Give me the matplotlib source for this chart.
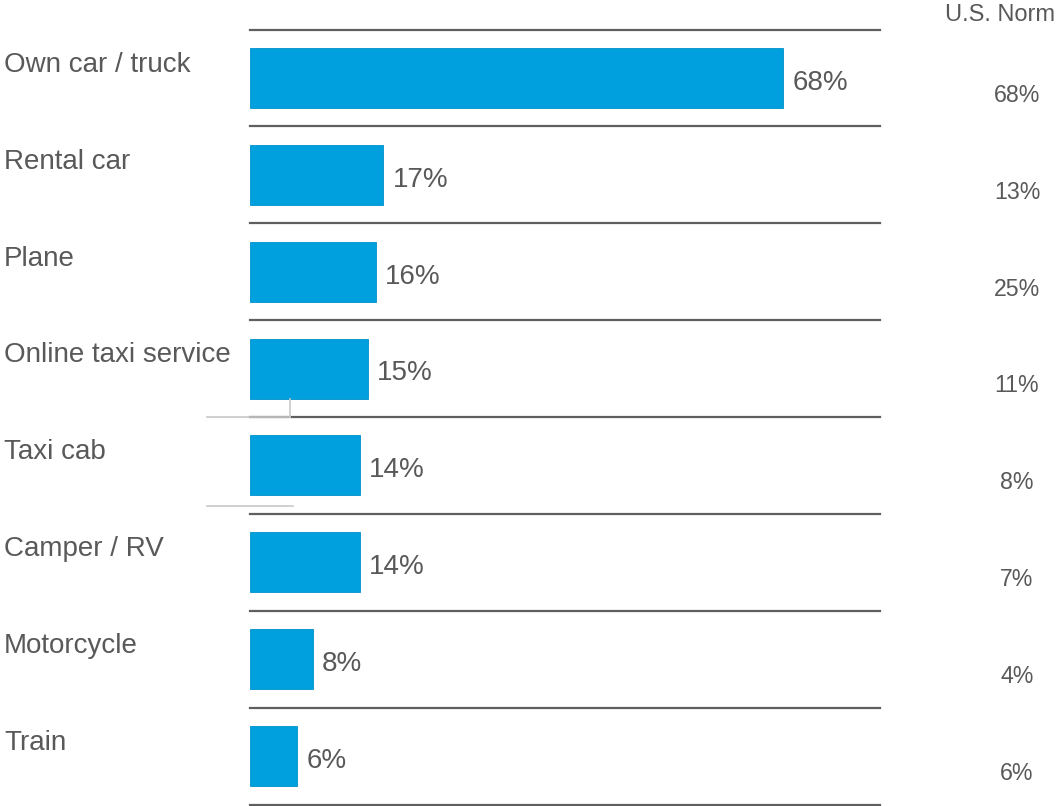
import matplotlib.pyplot as plt
import matplotlib.transforms as mtransforms
from matplotlib.lines import Line2D

plt.rcParams["font.family"] = ["Liberation Sans", "DejaVu Sans"]

categories = ["Own car / truck", "Rental car", "Plane", "Online taxi service",
              "Taxi cab", "Camper / RV", "Motorcycle", "Train"]
values = [68, 17, 16, 15, 14, 14, 8, 6]
us_norm = [68, 13, 25, 11, 8, 7, 4, 6]

BAR = "#00A0DE"
TEXT = "#595959"
RULE = "#5f5f5f"

W, H = 1058, 806
fig = plt.figure(figsize=(W / 100, H / 100), dpi=100)
ax = fig.add_axes([250 / W, 1.5 / H, 630 / W, 775 / H])

y = list(range(len(categories)))
ax.barh(y, values, height=0.62, color=BAR, edgecolor="#0090c8", linewidth=0.6)
ax.set_xlim(0, 80.3)
ax.set_ylim(len(categories) - 0.5, -0.5)
ax.axis("off")

# row separators
for i in range(len(categories) + 1):
    ax.axhline(i - 0.5, color=RULE, lw=1.6, clip_on=False)

# left-hand category labels sit in the upper part of each row
lab = mtransforms.blended_transform_factory(fig.transFigure, ax.transData)
for i, name in enumerate(categories):
    ax.text(4 / W, i - 0.135, name, transform=lab, ha="left", va="center",
            fontsize=20, color=TEXT)
    ax.text(values[i] + 1.2, i + 0.05, f"{values[i]}%", ha="left", va="center",
            fontsize=20, color=TEXT)
    ax.text(1017 / W, i + 0.18, f"{us_norm[i]}%", transform=lab,
            ha="center", va="center", fontsize=16.7, color=TEXT)

fig.text(1055 / W, 1 - 15 / H, "U.S. Norm", ha="right", va="center",
         fontsize=17, color=TEXT)

# thin grey connector strokes at the left edge
grey = "#c8c8c8"
for xs, ys in [([207, 290], [417, 417]), ([290, 290], [399, 417]),
               ([207, 293], [506, 506])]:
    fig.add_artist(Line2D([x / W for x in xs], [1 - v / H for v in ys],
                          transform=fig.transFigure, color=grey, lw=1.2))

fig.savefig("out.png", dpi=100, facecolor="white")
